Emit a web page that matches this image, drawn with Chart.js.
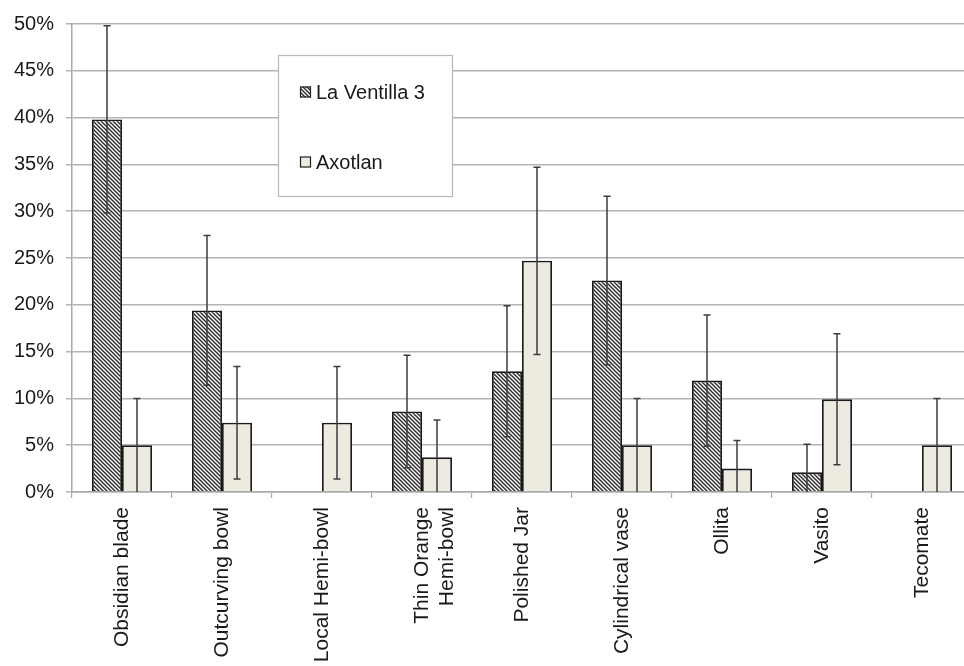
<!DOCTYPE html>
<html>
<head>
<meta charset="utf-8">
<script src="https://cdn.jsdelivr.net/npm/chart.js@4.4.0/dist/chart.umd.min.js"></script>
<style>
  html, body { margin: 0; padding: 0; background: #fff; overflow: hidden; }
  #wrap { width: 972px; height: 666px; }
</style>
</head>
<body>
<div id="wrap"><canvas id="myChart" width="972" height="666"></canvas></div>
<script>
// values, in percent
const categories = [
  "Obsidian blade", "Outcurving bowl", "Local Hemi-bowl", ["Thin Orange", "Hemi-bowl"],
  "Polished Jar", "Cylindrical vase", "Ollita", "Vasito", "Tecomate"
];
const ventilla = [39.8, 19.4, 0, 8.6, 12.9, 22.6, 11.9, 2.1, 0];
const ventillaErr = [10, 8, 0, 6, 7, 9, 7, 3, 0];
const axotlan = [5, 7.4, 7.4, 3.7, 24.7, 5, 2.5, 9.9, 5];
const axotlanErr = [5, 6, 6, 4, 10, 5, 3, 7, 5];
const yTicks = [0, 5, 10, 15, 20, 25, 30, 35, 40, 45, 50];

const FONT = "'Liberation Sans', Arial, sans-serif";

function hatch() {
  const c = document.createElement("canvas");
  c.width = 4; c.height = 4;
  const g = c.getContext("2d");
  g.fillStyle = "#ffffff";
  g.fillRect(0, 0, 4, 4);
  g.strokeStyle = "#303030";
  g.lineWidth = 1.5;
  g.beginPath();
  g.moveTo(-1, -1); g.lineTo(5, 5);
  g.moveTo(-1, 3); g.lineTo(1, 5);
  g.moveTo(3, -1); g.lineTo(5, 1);
  g.stroke();
  return g.createPattern(c, "repeat");
}

const errorBars = {
  id: "errorBars",
  afterDatasetsDraw(chart) {
    const { ctx, chartArea, scales: { y } } = chart;
    ctx.save();
    ctx.beginPath();
    ctx.rect(chartArea.left, chartArea.top - 3, chartArea.right - chartArea.left, chartArea.bottom - chartArea.top + 3);
    ctx.clip();
    ctx.strokeStyle = "#3c3c3c";
    ctx.lineWidth = 1.5;
    chart.data.datasets.forEach((ds, di) => {
      chart.getDatasetMeta(di).data.forEach((bar, i) => {
        const v = ds.data[i], e = ds.errors[i];
        if (!e) return;
        const top = y.getPixelForValue(v + e);
        const low = v - e;
        const bot = y.getPixelForValue(Math.max(0, low));
        ctx.beginPath();
        ctx.moveTo(bar.x, top); ctx.lineTo(bar.x, bot);
        ctx.moveTo(bar.x - 3.5, top); ctx.lineTo(bar.x + 3.5, top);
        if (low > 0) { ctx.moveTo(bar.x - 3.5, bot); ctx.lineTo(bar.x + 3.5, bot); }
        ctx.stroke();
      });
    });
    ctx.restore();
  }
};

const boxLegend = {
  id: "boxLegend",
  afterDraw(chart) {
    const ctx = chart.ctx;
    ctx.save();
    ctx.fillStyle = "#fff";
    ctx.fillRect(278, 55, 174, 141);
    ctx.strokeStyle = "#b8b8b8";
    ctx.lineWidth = 1.2;
    ctx.strokeRect(278.5, 55.5, 174, 141);
    const rows = [92, 162];
    chart.data.datasets.forEach((ds, i) => {
      const cy = rows[i];
      ctx.fillStyle = ds.backgroundColor;
      ctx.fillRect(300, cy - 5.5, 11, 11);
      ctx.strokeStyle = "#222";
      ctx.lineWidth = 1.2;
      ctx.strokeRect(300.5, cy - 5, 10, 10);
      ctx.fillStyle = "#1a1a1a";
      ctx.font = "20px " + FONT;
      ctx.textBaseline = "middle";
      ctx.fillText(ds.label, 316, cy + 1);
    });
    ctx.restore();
  }
};

const ctx = document.getElementById("myChart").getContext("2d");
new Chart(ctx, {
  type: "bar",
  data: {
    labels: categories,
    datasets: [
      { label: "La Ventilla 3", data: ventilla, errors: ventillaErr, backgroundColor: hatch(), borderColor: "#1a1a1a", borderWidth: 1.8 },
      { label: "Axotlan", data: axotlan, errors: axotlanErr, backgroundColor: "#edeadf", borderColor: "#1a1a1a", borderWidth: 1.8 }
    ]
  },
  options: {
    responsive: false,
    animation: false,
    layout: { padding: { top: 22, right: 0, left: 0, bottom: 0 } },
    categoryPercentage: 0.6,
    barPercentage: 1.0,
    plugins: { legend: { display: false }, tooltip: { enabled: false } },
    scales: {
      x: {
        grid: { drawOnChartArea: false, drawTicks: true, tickLength: 6, color: "#a8a8a8", lineWidth: 1.2, offset: true },
        border: { color: "#a8a8a8", width: 1.5 },
        ticks: { minRotation: 90, maxRotation: 90, autoSkip: false, padding: 9, color: "#1a1a1a", font: { family: FONT, size: 21 } },
        afterFit(s) { s.height = 174; }
      },
      y: {
        min: 0, max: 50,
        afterBuildTicks(s) { s.ticks = yTicks.map(v => ({ value: v })); },
        grid: { color: "#b4b4b4", lineWidth: 1.5, tickLength: 6 },
        border: { color: "#a8a8a8", width: 1.5 },
        ticks: { padding: 12, color: "#1a1a1a", font: { family: FONT, size: 20 }, callback: v => v + "%" },
        afterFit(s) { s.width = 72; }
      }
    }
  },
  plugins: [errorBars, boxLegend]
});
</script>
</body>
</html>
